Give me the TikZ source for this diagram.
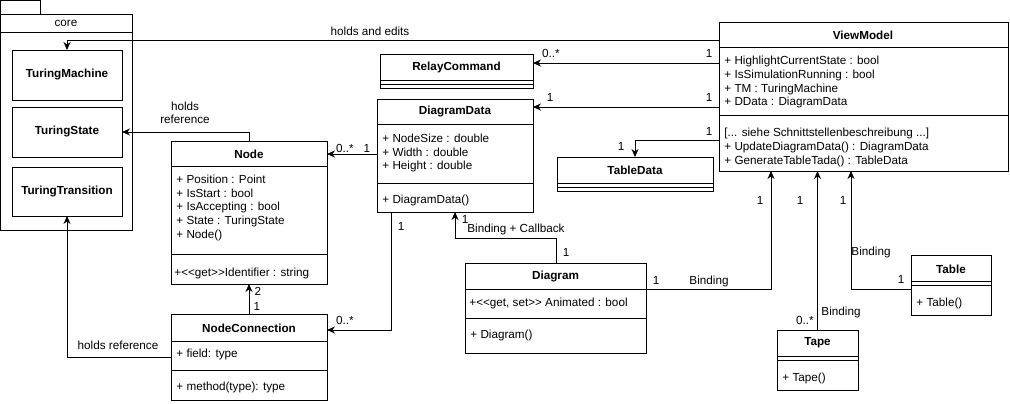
\documentclass[tikz,border=0pt]{standalone}
\usepackage{fontspec}
\setmainfont{Liberation Sans}
\usetikzlibrary{arrows.meta}
\begin{document}
\begin{tikzpicture}[x=1pt,y=-1pt,line width=0.9pt,
  box/.style={draw,anchor=north west,inner sep=0,outer sep=0},
  txt/.style={font=\fontsize{11.7}{13}\selectfont,inner sep=0,anchor=west},
  ttl/.style={font=\bfseries\fontsize{11.7}{13}\selectfont,inner sep=0},
  lbl/.style={font=\fontsize{11.7}{13}\selectfont,inner sep=0},
  arr/.style={-{Stealth[length=8pt,width=7pt]}}]
\useasboundingbox (0,0) rectangle (1010,404);
% package core
\draw (0.5,0.5) rectangle (40,14);
\node[box,minimum width=132pt,minimum height=216pt] (core) at (0.5,14) {};
\draw (0.5,32) -- (133,32);
\node[lbl] (coret) at (66,23) {core};
\node[box,minimum width=110pt,minimum height=50pt] (tm) at (12,50) {};
\node[ttl] at (tm.center) {TuringMachine};
\node[box,minimum width=110pt,minimum height=50pt] (ts) at (12,107) {};
\node[ttl] at (ts.center) {TuringState};
\node[box,minimum width=110pt,minimum height=49pt] (tt) at (12,167) {};
\node[ttl] at (tt.center) {TuringTransition};
% ViewModel
\node[box,minimum width=289pt,minimum height=149pt] (vm) at (719,22) {};
\draw (719,47) -- (1008,47); \draw (719,115) -- (1008,115);
\node[ttl] at (863,35) {ViewModel};
\node[txt] at (724,61) {+ HighlightCurrentState : bool};
\node[txt] at (724,75) {+ IsSimulationRunning : bool};
\node[txt] at (724,89) {+ TM : TuringMachine};
\node[txt] at (724,102) {+ DData : DiagramData};
\node[txt] at (724,133) {[... siehe Schnittstellenbeschreibung ...]};
\node[txt] at (724,147) {+ UpdateDiagramData() : DiagramData};
\node[txt] at (724,161) {+ GenerateTableTada() : TableData};
% RelayCommand
\node[box,minimum width=153pt,minimum height=34pt] (rc) at (380,54) {};
\draw (380,80) -- (533,80); \draw (380,84) -- (533,84);
\node[ttl] at (456.5,67) {RelayCommand};
% DiagramData
\node[box,minimum width=156pt,minimum height=113pt] (dd) at (377,99) {};
\draw (377,124) -- (533,124); \draw (377,183) -- (533,183);
\node[ttl] at (455,112) {DiagramData};
\node[txt] at (382,138) {+ NodeSize : double};
\node[txt] at (382,152) {+ Width : double};
\node[txt] at (382,166) {+ Height : double};
\node[txt] at (382,200) {+ DiagramData()};
% TableData
\node[box,minimum width=156pt,minimum height=34pt] (td) at (557,157) {};
\draw (557,183) -- (713,183); \draw (557,187) -- (713,187);
\node[ttl] at (635,170) {TableData};
% Node
\node[box,minimum width=156pt,minimum height=143pt] (node) at (171,141) {};
\draw (171,166) -- (327,166); \draw (171,254) -- (327,254);
\node[ttl] at (249,154) {Node};
\node[txt] at (176,179) {+ Position : Point};
\node[txt] at (176,193) {+ IsStart : bool};
\node[txt] at (176,207) {+ IsAccepting : bool};
\node[txt] at (176,221) {+ State : TuringState};
\node[txt] at (176,235) {+ Node()};
\node[txt] at (174,273) {+<{}<get>{}>Identifier : string};
% NodeConnection
\node[box,minimum width=156pt,minimum height=86pt] (nc) at (171,314) {};
\draw (171,341) -- (327,341); \draw (171,370) -- (327,370);
\node[ttl] at (249,328) {NodeConnection};
\node[txt] at (176,354) {+ field: type};
\node[txt] at (176,387) {+ method(type): type};
% Diagram
\node[box,minimum width=181pt,minimum height=90pt] (dg) at (465,263) {};
\draw (465,289) -- (646,289); \draw (465,318) -- (646,318);
\node[ttl] at (555.5,276) {Diagram};
\node[txt] at (469,303) {+<{}<get, set>{}> Animated : bool};
\node[txt] at (470,335) {+ Diagram()};
% Tape
\node[box,minimum width=81pt,minimum height=60pt] (tp) at (777,330) {};
\draw (777,356) -- (858,356); \draw (777,360) -- (858,360);
\node[ttl] at (817.5,343) {Tape};
\node[txt] at (782,378) {+ Tape()};
% Table
\node[box,minimum width=80pt,minimum height=60pt] (tb) at (911,255) {};
\draw (911,281) -- (991,281); \draw (911,285) -- (991,285);
\node[ttl] at (951,269) {Table};
\node[txt] at (916,303) {+ Table()};
% connectors
\draw[arr] (vm.west |- 0,40) -| (tm.north);
\node[lbl] at (370,31) {holds and edits};
\draw[arr] (vm.west |- 0,63) -- (rc.east |- 0,63);
\node[lbl] at (551,53) {0..*};
\node[lbl] at (709,53) {1};
\draw[arr] (vm.west |- 0,107) -- (dd.east |- 0,107);
\node[lbl] at (550,97) {1};
\node[lbl] at (709,97) {1};
\draw[arr] (vm.west |- 0,140) -| (td.north);
\node[lbl] at (621,146) {1};
\node[lbl] at (709,131) {1};
\draw[arr] (dd.west |- 0,154) -- (node.east |- 0,154);
\node[lbl] at (345,148) {0..*};
\node[lbl] at (367,148) {1};
\draw[arr] (node.north) |- (ts.east);
\node[lbl,align=center] at (185,113) {holds\\reference};
\draw[arr] (nc.north) -- (node.south);
\node[lbl] at (258,291) {2};
\node[lbl] at (257,306) {1};
\draw[arr] (nc.west |- 0,357) -| (tt.south);
\node[lbl] at (118,345) {holds reference};
\coordinate (ddnc) at (391,330);
\draw[arr] (dd.south -| ddnc) |- (nc.east |- ddnc);
\node[lbl] at (401,226) {1};
\node[lbl] at (345,320) {0..*};
\coordinate (bend1) at (455,238);
\draw[arr] (dg.north -| 556,0) |- (bend1) -- (dd.south -| bend1);
\node[lbl] at (465,219) {1};
\node[lbl] at (516,229) {Binding + Callback};
\node[lbl] at (566,252) {1};
\coordinate (dgvm) at (771,289);
\draw[arr] (dg.east |- dgvm) -| (vm.south -| dgvm);
\node[lbl] at (656,280) {1};
\node[lbl] at (709,281) {Binding};
\node[lbl] at (760,200) {1};
\draw[arr] (tp.north) -- (vm.south -| tp.north);
\node[lbl] at (800,200) {1};
\node[lbl] at (805,320) {0..*};
\node[lbl] at (841,312) {Binding};
\coordinate (tbvm) at (851,289);
\draw[arr] (tb.west |- tbvm) -| (vm.south -| tbvm);
\node[lbl] at (843,200) {1};
\node[lbl] at (871,252) {Binding};
\node[lbl] at (901,279) {1};
\end{tikzpicture}
\end{document}
